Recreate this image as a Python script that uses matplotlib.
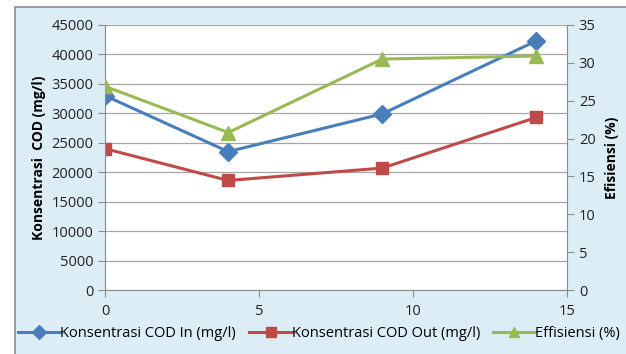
import matplotlib.pyplot as plt
from matplotlib.patches import Rectangle

plt.rcParams['font.family'] = ['Open Sans', 'DejaVu Sans']

waktu = [0, 4, 9, 14]
cod_in = [33000, 23500, 29900, 42300]
cod_out = [24000, 18600, 20700, 29300]
efisiensi = [26.9, 20.8, 30.5, 30.9]

blue = '#4a7ebb'
red = '#be4b48'
green = '#98b954'
grey = '#8c8c8c'

fig = plt.figure(figsize=(6.26, 3.54), dpi=100)
fig.patch.set_facecolor('white')
# chart area background with grey border
fig.patches.append(Rectangle((15/626, -0.05), 1.0, 1.05 - 7/354, transform=fig.transFigure,
                             facecolor='#dcedf5', edgecolor='#8a8a8a', lw=1.2, zorder=-1))

ax = fig.add_axes([105/626, 1 - 290/354, (567 - 105)/626, (290 - 25)/354])
ax.set_facecolor('white')
ax2 = ax.twinx()

l1, = ax.plot(waktu, cod_in, '-D', color=blue, lw=2.2, ms=9, label='Konsentrasi COD In (mg/l)')
l2, = ax.plot(waktu, cod_out, '-s', color=red, lw=2.2, ms=9, label='Konsentrasi COD Out (mg/l)')
l3, = ax2.plot(waktu, efisiensi, '-^', color=green, lw=2.2, ms=10, label='Effisiensi (%)')

ax.set_xlim(0, 15)
ax.set_ylim(0, 45000)
ax2.set_ylim(0, 35)
ax.set_xticks([0, 5, 10, 15])
ax.set_yticks(range(0, 45001, 5000))
ax2.set_yticks(range(0, 36, 5))
ax.yaxis.grid(True, color='#a6a6a6', lw=0.9)
ax.set_axisbelow(True)

for a in (ax, ax2):
    for s in a.spines.values():
        s.set_visible(False)
ax.spines['left'].set_visible(True)
ax.spines['bottom'].set_visible(True)
ax2.spines['right'].set_visible(True)
ax.spines['left'].set_color(grey)
ax.spines['bottom'].set_color(grey)
ax2.spines['right'].set_color(grey)

ax.tick_params(axis='both', colors=grey, labelcolor='#222222', labelsize=10.5, length=5, direction='out')
ax.tick_params(axis='x', pad=5)
ax2.tick_params(axis='y', colors=grey, labelcolor='#222222', labelsize=10.5, length=5, direction='out')

ax.set_ylabel('Konsentrasi  COD (mg/l)', fontsize=10, fontweight='bold', labelpad=4)
ax2.set_ylabel('Efisiensi (%)', fontsize=10, fontweight='bold', labelpad=7)

fig.legend(handles=[l1, l2, l3], loc='lower center', bbox_to_anchor=(0.51, 0.0), ncol=3,
           frameon=False, fontsize=10.5, handlelength=2.9, handletextpad=0.0,
           columnspacing=0.9, markerscale=0.75)

fig.savefig('out.png', dpi=100)
